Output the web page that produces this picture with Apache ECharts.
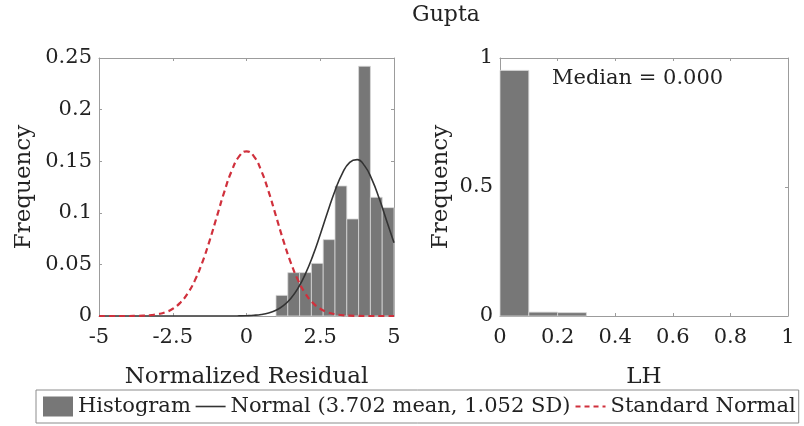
<!DOCTYPE html>
<html>
<head>
<meta charset="utf-8">
<script src="https://cdn.jsdelivr.net/npm/echarts@6/dist/echarts.min.js"></script>
<style>
  html, body { margin: 0; padding: 0; background: #fff; }
  #chart { width: 804px; height: 426px; }
</style>
</head>
<body>
<div id="chart"></div>
<script>
// Residual histogram: bin edges and frequency per bin
const residBinEdges = [1.0, 1.4, 1.8, 2.2, 2.6, 3.0, 3.4, 3.8, 4.2, 4.6, 5.0];
const residFreq = [0.020, 0.042, 0.042, 0.051, 0.074, 0.126, 0.094, 0.242, 0.115, 0.105];

// Sample positions for the two density curves (scaled to bin width)
const curveX = [-5, -4.75, -4.5, -4.25, -4, -3.75, -3.5, -3.25, -3, -2.75, -2.5, -2.25, -2, -1.75, -1.5, -1.25, -1, -0.75, -0.5, -0.25,
                0, 0.25, 0.5, 0.75, 1, 1.25, 1.5, 1.75, 2, 2.25, 2.5, 2.75, 3, 3.25, 3.5, 3.75, 4, 4.25, 4.5, 4.75, 5];
const normalFit = [0, 0, 0, 0, 0, 0, 0, 0, 0, 0, 0, 0, 0, 0, 0, 0, 0, 0, 0, 0.0001,
                   0.0003, 0.0007, 0.0015, 0.0030, 0.0056, 0.0100, 0.0170, 0.0271, 0.0410, 0.0585, 0.0790, 0.1007, 0.1214, 0.1383, 0.1489, 0.1515, 0.1457, 0.1324, 0.1138, 0.0924, 0.0709];
const stdNormal = [0, 0, 0, 0, 0, 0.0001, 0.0003, 0.0008, 0.0018, 0.0036, 0.0070, 0.0127, 0.0216, 0.0345, 0.0518, 0.0731, 0.0968, 0.1205, 0.1408, 0.1547,
                   0.1596, 0.1547, 0.1408, 0.1205, 0.0968, 0.0731, 0.0518, 0.0345, 0.0216, 0.0127, 0.0070, 0.0036, 0.0018, 0.0008, 0.0003, 0.0001, 0, 0, 0, 0, 0];

// LH histogram
const lhBinEdges = [0, 0.1, 0.2, 0.3];
const lhFreq = [0.952, 0.015, 0.013];

const residTicks = { min: -5, max: 5, interval: 2.5 };
const residFreqTicks = { min: 0, max: 0.25, interval: 0.05 };
const lhTicks = { min: 0, max: 1, interval: 0.2 };
const lhFreqTicks = { min: 0, max: 1, interval: 0.5 };

const FONT = 'DejaVu Serif';
const TEXT = '#222222';
const BOX = '#9c9c9c';
const BAR = '#777777';
const FIT = '#333333';
const STD = '#d0303c';

function binsToData(edges, freq) {
  return freq.map((f, i) => [edges[i], edges[i + 1], f]);
}
function pairs(xs, ys) {
  return xs.map((x, i) => [x, ys[i]]);
}

function renderBin(params, api) {
  const x0 = api.value(0), x1 = api.value(1), y = api.value(2);
  const p0 = api.coord([x0, y]);
  const p1 = api.coord([x1, 0]);
  return {
    type: 'rect',
    shape: { x: p0[0], y: p0[1], width: p1[0] - p0[0], height: p1[1] - p0[1] },
    style: { fill: BAR, stroke: '#d8d8d8', lineWidth: 0.8 }
  };
}

function mainX(gridIndex, ticks, name) {
  return {
    type: 'value', gridIndex, position: 'bottom',
    min: ticks.min, max: ticks.max, interval: ticks.interval,
    name, nameLocation: 'middle', nameGap: 50,
    nameTextStyle: { fontFamily: FONT, fontSize: 23, color: TEXT },
    axisLine: { show: true, onZero: false, lineStyle: { color: BOX, width: 1 } },
    axisTick: { show: true, inside: true, length: 3, lineStyle: { color: BOX } },
    axisLabel: { fontFamily: FONT, fontSize: 21, color: TEXT, margin: 11 },
    splitLine: { show: false }
  };
}
function mirrorX(gridIndex, ticks) {
  return {
    type: 'value', gridIndex, position: 'top',
    min: ticks.min, max: ticks.max, interval: ticks.interval,
    axisLine: { show: true, onZero: false, lineStyle: { color: BOX, width: 1 } },
    axisTick: { show: true, inside: true, length: 3, lineStyle: { color: BOX } },
    axisLabel: { show: false }, splitLine: { show: false }
  };
}
function mainY(gridIndex, ticks, nameGap) {
  return {
    type: 'value', gridIndex, position: 'left',
    min: ticks.min, max: ticks.max, interval: ticks.interval,
    name: 'Frequency', nameLocation: 'middle', nameGap,
    nameTextStyle: { fontFamily: FONT, fontSize: 23, color: TEXT },
    axisLine: { show: true, onZero: false, lineStyle: { color: BOX, width: 1 } },
    axisTick: { show: true, inside: true, length: 3, lineStyle: { color: BOX } },
    axisLabel: { fontFamily: FONT, fontSize: 21, color: TEXT, margin: 7 },
    splitLine: { show: false }
  };
}
function mirrorY(gridIndex, ticks) {
  return {
    type: 'value', gridIndex, position: 'right',
    min: ticks.min, max: ticks.max, interval: ticks.interval,
    axisLine: { show: true, onZero: false, lineStyle: { color: BOX, width: 1 } },
    axisTick: { show: true, inside: true, length: 3, lineStyle: { color: BOX } },
    axisLabel: { show: false }, splitLine: { show: false }
  };
}

const chart = echarts.init(document.getElementById('chart'), null, { renderer: 'canvas' });
chart.setOption({
  animation: false,
  backgroundColor: '#ffffff',
  title: {
    text: 'Gupta', left: 446, top: 4, textAlign: 'center', padding: 0,
    textStyle: { fontFamily: FONT, fontSize: 22, fontWeight: 'normal', color: TEXT }
  },
  grid: [
    { left: 99, top: 58, width: 295, height: 258 },
    { left: 500, top: 58, width: 288, height: 258 }
  ],
  xAxis: [
    mainX(0, residTicks, 'Normalized Residual'),
    mirrorX(0, residTicks),
    mainX(1, lhTicks, 'LH'),
    mirrorX(1, lhTicks)
  ],
  yAxis: [
    mainY(0, residFreqTicks, 63),
    mirrorY(0, residFreqTicks),
    mainY(1, lhFreqTicks, 47),
    mirrorY(1, lhFreqTicks)
  ],
  legend: {
    left: 36, top: 390, width: 790,
    padding: [6, 3, 6, 7],
    itemGap: 4, itemWidth: 30, itemHeight: 20,
    borderColor: '#8c8c8c', borderWidth: 1,
    textStyle: { fontFamily: FONT, fontSize: 21, color: TEXT },
    data: [
      { name: 'Histogram', icon: 'rect', itemStyle: { color: BAR } },
      { name: 'Normal (3.702 mean, 1.052 SD)', itemStyle: { opacity: 0 },
        lineStyle: { color: FIT, width: 1.6 } },
      { name: 'Standard Normal', itemStyle: { opacity: 0 },
        lineStyle: { color: STD, width: 2.2, type: [5, 4] } }
    ]
  },
  graphic: [
    {
      type: 'text', left: 552, top: 68,
      style: { text: 'Median = 0.000', fontFamily: FONT, fontSize: 21, fill: TEXT }
    }
  ],
  series: [
    {
      name: 'Histogram', type: 'custom', xAxisIndex: 0, yAxisIndex: 0,
      renderItem: renderBin, itemStyle: { color: BAR },
      encode: { x: [0, 1], y: 2 },
      data: binsToData(residBinEdges, residFreq), z: 2
    },
    {
      name: 'Normal (3.702 mean, 1.052 SD)', type: 'line', xAxisIndex: 0, yAxisIndex: 0,
      data: pairs(curveX, normalFit), smooth: true, symbol: 'none',
      lineStyle: { color: FIT, width: 1.6 }, itemStyle: { color: FIT }, z: 3
    },
    {
      name: 'Standard Normal', type: 'line', xAxisIndex: 0, yAxisIndex: 0,
      data: pairs(curveX, stdNormal), smooth: true, symbol: 'none',
      lineStyle: { color: STD, width: 2.2, type: [6, 4] }, itemStyle: { color: STD }, z: 4
    },
    {
      name: 'LH', type: 'custom', xAxisIndex: 2, yAxisIndex: 2,
      renderItem: renderBin, itemStyle: { color: BAR },
      encode: { x: [0, 1], y: 2 },
      data: binsToData(lhBinEdges, lhFreq), z: 2
    }
  ]
});
</script>
</body>
</html>
